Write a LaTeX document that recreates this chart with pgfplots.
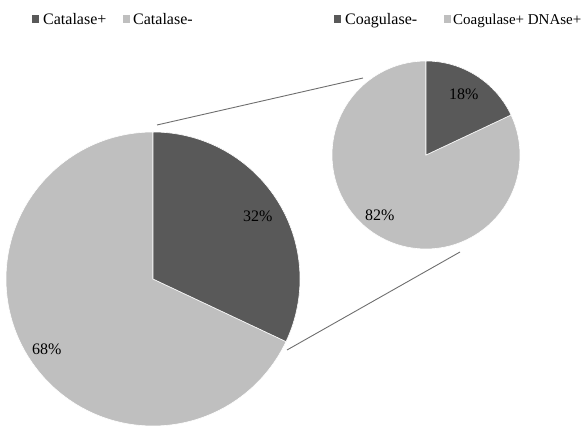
\documentclass[border=0pt]{standalone}
\usepackage{fontspec}
\setmainfont{Liberation Serif}
\usepackage{pgfplots}
\pgfplotsset{compat=1.18}
\definecolor{darkslice}{HTML}{595959}
\definecolor{lightslice}{HTML}{BFBFBF}
\definecolor{connector}{HTML}{6E6E6E}

% shares in percent
\def\catpos{32}\def\catneg{68}
\def\coagneg{18}\def\coagpos{82}

\tikzset{lab/.style={font=\fontsize{16}{18}\selectfont, inner sep=0pt, anchor=base west}}

\begin{document}
\begin{tikzpicture}
\begin{axis}[
  width=584pt, height=431pt, scale only axis,
  xmin=0, xmax=584, ymin=-431, ymax=0,
  hide axis, clip=false
]
  % main pie: centre (153,-279), r = 147
  \pgfmathsetmacro{\ea}{90-3.6*\catpos}
  \fill[lightslice, draw=white, line width=0.6pt] (axis cs:153,-279) -- (axis cs:153,-132)
     arc[start angle=90, end angle=\ea-360, radius=147] -- cycle;
  \fill[darkslice, draw=white, line width=0.6pt] (axis cs:153,-279) -- (axis cs:153,-132)
     arc[start angle=90, end angle=\ea, radius=147] -- cycle;

  % secondary pie: centre (426,-155), r = 94
  \pgfmathsetmacro{\eb}{90-3.6*\coagneg}
  \fill[lightslice, draw=white, line width=0.6pt] (axis cs:426,-155) -- (axis cs:426,-61)
     arc[start angle=90, end angle=\eb-360, radius=94] -- cycle;
  \fill[darkslice, draw=white, line width=0.6pt] (axis cs:426,-155) -- (axis cs:426,-61)
     arc[start angle=90, end angle=\eb, radius=94] -- cycle;

  % connectors
  \draw[connector, line width=0.9pt] (axis cs:157,-125) -- (axis cs:363,-78);
  \draw[connector, line width=0.9pt] (axis cs:287,-350) -- (axis cs:460,-252);

  % slice labels
  \node[lab] at (axis cs:243,-222) {\catpos\%};
  \node[lab] at (axis cs:32,-355) {\catneg\%};
  \node[lab] at (axis cs:449,-100) {\coagneg\%};
  \node[lab] at (axis cs:365,-221) {\coagpos\%};

  % legends
  \fill[darkslice] (axis cs:32,-15) rectangle (axis cs:39,-23);
  \node[lab] at (axis cs:43,-25) {Catalase+};
  \fill[lightslice] (axis cs:123,-15) rectangle (axis cs:130,-23);
  \node[lab] at (axis cs:133,-25) {Catalase-};
  \fill[darkslice] (axis cs:334,-15) rectangle (axis cs:341,-23);
  \node[lab] at (axis cs:345,-25) {Coagulase-};
  \fill[lightslice] (axis cs:444,-15) rectangle (axis cs:451,-23);
  \node[lab, font=\fontsize{15}{18}\selectfont] at (axis cs:453,-25) {Coagulase+ DNAse+};
\end{axis}
\pgfresetboundingbox
\path (current axis.south west) rectangle (current axis.north east);
\end{tikzpicture}
\end{document}
